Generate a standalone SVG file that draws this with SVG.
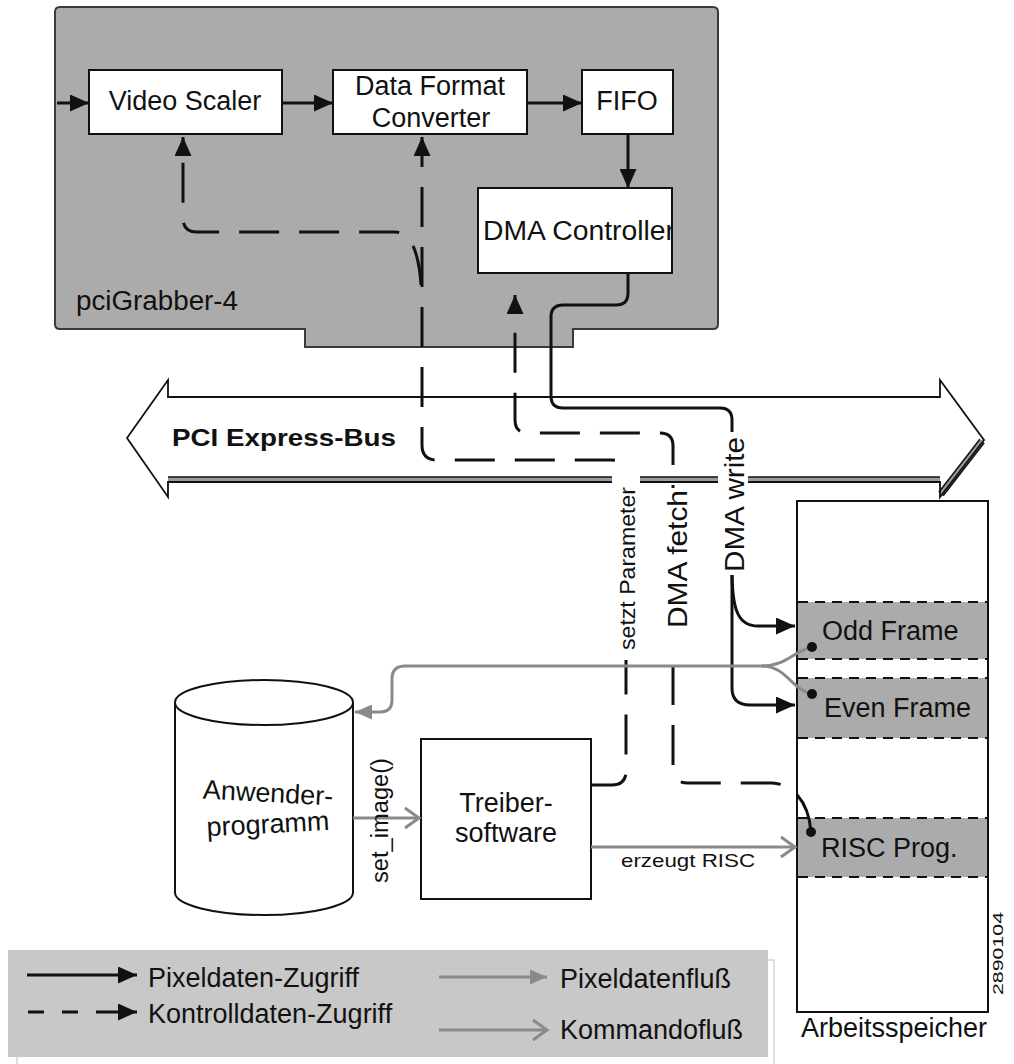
<svg xmlns="http://www.w3.org/2000/svg" width="1014" height="1064" viewBox="0 0 1014 1064">
<style>
text{font-family:"Liberation Sans",Arial,sans-serif;fill:#111}
.t27{font-size:27px}
.box{fill:#fff;stroke:#111;stroke-width:2}
.blk{fill:none;stroke:#111;stroke-width:3}
.dash{fill:none;stroke:#111;stroke-width:3;stroke-dasharray:40 20}
.gry{fill:none;stroke:#8a8a8a;stroke-width:3}
.band{fill:#ababab}
.bandline{stroke:#111;stroke-width:2;stroke-dasharray:10 7}
</style>
<defs>
<marker id="ah" markerUnits="userSpaceOnUse" markerWidth="19" markerHeight="17" refX="19" refY="8.5" orient="auto"><path d="M0,0 L19,8.5 L0,17 Z" fill="#111"/></marker>
<marker id="ahg" markerUnits="userSpaceOnUse" markerWidth="17" markerHeight="15" refX="17" refY="7.5" orient="auto"><path d="M0,0 L17,7.5 L0,15 Z" fill="#8a8a8a"/></marker>
<marker id="aho" markerUnits="userSpaceOnUse" markerWidth="20" markerHeight="24" refX="17" refY="12" orient="auto"><path d="M3,2 L17,12 L3,22" fill="none" stroke="#8a8a8a" stroke-width="3"/></marker>
<clipPath id="dmaclip"><rect x="478" y="188" width="193" height="85"/></clipPath>
</defs>

<g id="pciGrabber">
<path d="M60 7 H713 Q718 7 718 12 V324 Q718 329 713 329 H573 V347 H305 V329 H60 Q55 329 55 324 V12 Q55 7 60 7 Z" fill="#ababab" stroke="#3a3a3a" stroke-width="2"/>
<text class="t27" x="76" y="310" textLength="162" lengthAdjust="spacingAndGlyphs">pciGrabber-4</text>
</g>
<g id="videoScaler">
<rect class="box" x="89" y="70" width="193" height="64"/>
<text class="t27" x="185" y="110" text-anchor="middle">Video Scaler</text>
</g>
<g id="dataFormatConverter">
<rect class="box" x="333" y="70" width="194" height="64"/>
<text class="t27" x="430" y="95" text-anchor="middle">Data Format</text>
<text class="t27" x="431" y="127" text-anchor="middle">Converter</text>
</g>
<g id="fifo">
<rect class="box" x="582" y="70" width="91" height="64"/>
<text class="t27" x="627" y="110" text-anchor="middle">FIFO</text>
</g>
<g id="dmaController">
<rect class="box" x="478" y="188" width="194" height="85"/>
<text class="t27" x="483" y="240" textLength="192" lengthAdjust="spacingAndGlyphs" clip-path="url(#dmaclip)">DMA Controller</text>
</g>

<g id="pciBus">
<polygon points="127,438 168,380 168,397 940,397 940,380 984,440 940,497 940,482 168,482 168,497" fill="#fff"/>
<path d="M168 479.5 H940" stroke="#111" stroke-width="6.5"/>
<path d="M168 479.5 H940" stroke="#9a9a9a" stroke-width="3.5"/>
<path d="M941 494 L982 441" stroke="#111" stroke-width="7"/>
<path d="M941 494 L982 441" stroke="#9a9a9a" stroke-width="4"/>
<polygon points="127,438 168,380 168,397 940,397 940,380 984,440 940,497 940,482 168,482 168,497" fill="none" stroke="#111" stroke-width="1.8"/>
<text x="172" y="446" font-size="23" font-weight="bold" textLength="224" lengthAdjust="spacingAndGlyphs">PCI Express-Bus</text>
</g>

<g id="arbeitsspeicher">
<rect class="box" x="797" y="501" width="191" height="511"/>
<rect class="band" x="798" y="602" width="189" height="57"/>
<rect class="band" x="798" y="678" width="189" height="60"/>
<rect class="band" x="798" y="818" width="189" height="59"/>
<path class="bandline" d="M798 602 H987 M798 659 H987 M798 678 H987 M798 738 H987 M798 818 H987 M798 877 H987"/>
<text class="t27" x="822" y="640">Odd Frame</text>
<text class="t27" x="824" y="717">Even Frame</text>
<text class="t27" x="821" y="857">RISC Prog.</text>
<text class="t27" x="801" y="1037">Arbeitsspeicher</text>
</g>

<g id="anwenderprogramm">
<path d="M175 702.5 V892.5 A89 22.5 0 0 0 353 892.5 V702.5" fill="#fff" stroke="#111" stroke-width="2"/>
<ellipse cx="264" cy="702.5" rx="89" ry="22.5" fill="#fff" stroke="#111" stroke-width="2"/>
<text class="t27" x="268" y="802" text-anchor="middle" transform="rotate(3 268 795)">Anwender-</text>
<text class="t27" x="268" y="833" text-anchor="middle" transform="rotate(-3 268 826)">programm</text>
</g>

<g id="treibersoftware">
<rect class="box" x="421" y="739" width="170" height="160"/>
<text class="t27" x="506" y="812" text-anchor="middle">Treiber-</text>
<text class="t27" x="506" y="842" text-anchor="middle">software</text>
</g>

<g id="connectors">
<path class="blk" d="M57 103 H89" marker-end="url(#ah)"/>
<path class="blk" d="M282 103 H333" marker-end="url(#ah)"/>
<path class="blk" d="M527 103 H582" marker-end="url(#ah)"/>
<path class="blk" d="M628 134 V188" marker-end="url(#ah)"/>
<path class="blk" d="M628 273 V293 Q628 305 616 305 H563 Q551 305 551 317 V396 Q551 408 563 408 H720 Q732 408 732 420 V440"/>
<path class="blk" d="M732 570 C732 610 738 626 758 626 H795" marker-end="url(#ah)"/>
<path class="blk" d="M732 570 V688 Q732 705 750 705 H795" marker-end="url(#ah)"/>
<path class="dash" d="M591 785 H612 Q626 785 626 771 V475 Q626 460 611 460 H437 Q422 460 422 445 V137" marker-end="url(#ah)"/>
<path class="dash" d="M421 285 C419 255 412 232 395 232 H197 Q183 232 183 218 V137" marker-end="url(#ah)"/>
<path class="dash" d="M811 832 C809 805 795 784 772 783 H688 Q673 783 673 768 V446 Q673 433 660 433 H528 Q515 433 515 420 V295" marker-end="url(#ah)"/>
<circle cx="811" cy="832" r="5" fill="#111"/>
<path class="gry" d="M812 647 C792 652 786 666 762 666"/>
<path class="gry" d="M812 694 C792 690 786 666 762 666"/>
<path class="gry" d="M763 666 H405 Q392 666 392 679 V700 Q392 712 380 712 H355" marker-end="url(#ahg)"/>
<circle cx="812" cy="647" r="5" fill="#111"/>
<circle cx="812" cy="694" r="5" fill="#111"/>
<path class="gry" d="M353 818 H419" marker-end="url(#aho)"/>
<path class="gry" d="M591 847 H795" marker-end="url(#aho)"/>
<rect x="612" y="474" width="28" height="186" fill="#fff"/>
<rect x="662" y="488" width="29" height="164" fill="#fff"/>
<rect x="718" y="432" width="30" height="143" fill="#fff"/>
<text x="635" y="650" font-size="22" textLength="163" lengthAdjust="spacingAndGlyphs" transform="rotate(-90 635 650)">setzt Parameter</text>
<text x="687" y="628" font-size="28" textLength="138" lengthAdjust="spacingAndGlyphs" transform="rotate(-90 687 628)">DMA fetch</text>
<text x="744" y="572" font-size="28" textLength="135" lengthAdjust="spacingAndGlyphs" transform="rotate(-90 744 572)">DMA write</text>
<text x="388" y="883" font-size="23" textLength="125" lengthAdjust="spacingAndGlyphs" transform="rotate(-90 388 883)">set_image()</text>
<text x="621" y="867" font-size="19" fill="#333" textLength="134" lengthAdjust="spacingAndGlyphs">erzeugt RISC</text>
</g>

<g id="legend">
<rect x="17" y="960" width="757" height="110" fill="none" stroke="#d4d4d4" stroke-width="1.5"/>
<rect x="8" y="950" width="760" height="107" fill="#c8c8c8"/>
<path class="blk" d="M27 975 H137" marker-end="url(#ah)"/>
<path class="blk" d="M28 1012 H44 M62 1012 H78"/>
<path class="blk" d="M96 1012 H137" marker-end="url(#ah)"/>
<text class="t27" x="148" y="987">Pixeldaten-Zugriff</text>
<text class="t27" x="148" y="1023">Kontrolldaten-Zugriff</text>
<path class="gry" d="M439 977 H547" marker-end="url(#ahg)"/>
<path class="gry" d="M439 1030 H547" marker-end="url(#aho)"/>
<text class="t27" x="560" y="988">Pixeldatenfluß</text>
<text class="t27" x="560" y="1039">Kommandofluß</text>
</g>

<text x="1003" y="995" font-size="14" fill="#333" textLength="83" lengthAdjust="spacingAndGlyphs" transform="rotate(-90 1003 995)">2890104</text>
</svg>
